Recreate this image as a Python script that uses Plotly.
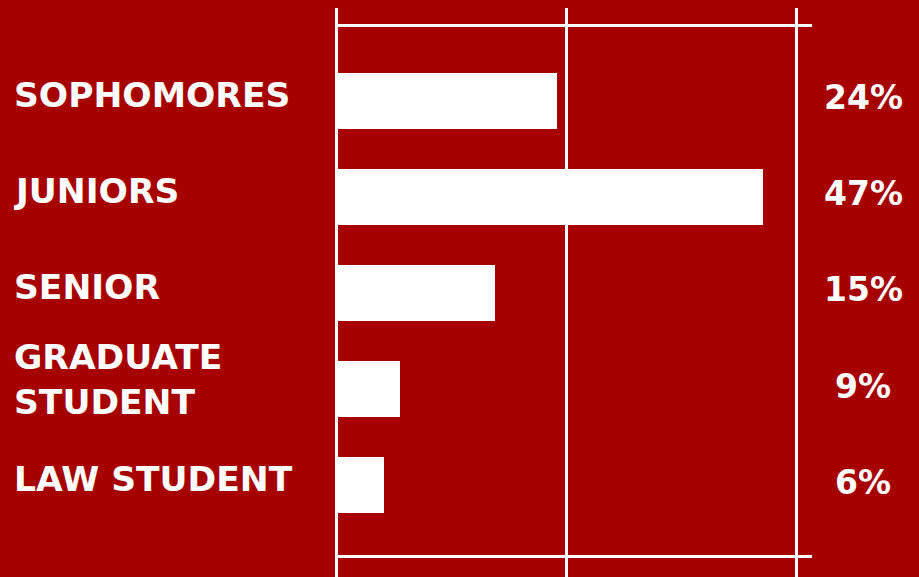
import plotly.graph_objects as go

categories = ["SOPHOMORES", "JUNIORS", "SENIOR", "GRADUATE<br>STUDENT", "LAW STUDENT"]
# bar lengths as drawn in the picture (grid at 0, 25, 50)
bar_lengths = [24.0, 46.4, 17.2, 6.9, 5.2]
pct_labels = ["24%", "47%", "15%", "9%", "6%"]
grid_ticks = [0, 25, 50]

W, H = 919, 577
BG = "#A70000"
x0_px, px_per_unit = 336.5, 9.2
x_range = [(0 - x0_px) / px_per_unit, (W - x0_px) / px_per_unit]
top_px = 8
c0_px, c_step = 100.7, 96.1
y_range = [(H - c0_px) / c_step, (top_px - c0_px) / c_step]

idx = list(range(len(categories)))

fig = go.Figure()
fig.add_trace(go.Bar(
    x=bar_lengths, y=idx, orientation="h",
    marker=dict(color="white", line=dict(width=0)),
    width=56 / c_step, hoverinfo="skip",
))

label_font = dict(family="DejaVu Sans", size=34.5, color="white", weight=700)
pct_font = dict(family="DejaVu Sans", size=33, color="white", weight=700)
label_shift = [6, 6, 6, 10, 6]
for i, (cat, pct) in enumerate(zip(categories, pct_labels)):
    fig.add_annotation(x=12 / W, xref="paper", y=i, yref="y", text=cat,
                       showarrow=False, xanchor="left", yanchor="middle",
                       align="left", font=label_font, yshift=label_shift[i])
    fig.add_annotation(x=(863 - x0_px) / px_per_unit, xref="x", y=i, yref="y",
                       text=pct, showarrow=False, xanchor="center",
                       yanchor="middle", font=pct_font, yshift=3)

x_end = (812 - x0_px) / px_per_unit
for ypx in [25.5, 556.5]:
    fig.add_shape(type="line", xref="x", yref="paper",
                  x0=grid_ticks[0], x1=x_end,
                  y0=1 - (ypx - top_px) / (H - top_px),
                  y1=1 - (ypx - top_px) / (H - top_px),
                  line=dict(color="white", width=3), layer="below")

fig.update_layout(
    width=W, height=H,
    margin=dict(l=0, r=0, t=top_px, b=0),
    paper_bgcolor=BG, plot_bgcolor=BG,
    showlegend=False, bargap=0,
    xaxis=dict(range=x_range, tickvals=grid_ticks, showticklabels=False,
               showgrid=True, gridcolor="white", gridwidth=3,
               zeroline=False, showline=False, fixedrange=True),
    yaxis=dict(range=y_range, showticklabels=False, showgrid=False,
               zeroline=False, showline=False, fixedrange=True),
)

fig.write_html("out.html", config={"displayModeBar": False})
